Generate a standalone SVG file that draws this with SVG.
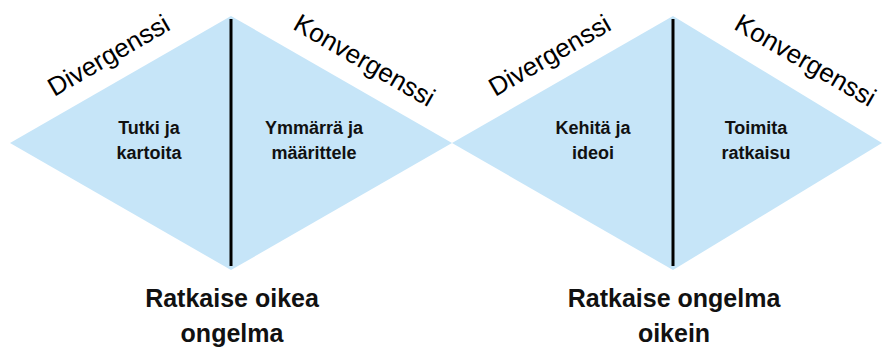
<svg xmlns="http://www.w3.org/2000/svg" width="882" height="347" viewBox="0 0 882 347">
  <style>
    .diamond { fill: #c6e5f8; stroke: none; }
    .divider { stroke: #000; stroke-width: 3; }
    .phase { font-family: "Liberation Sans", Arial, sans-serif; font-size: 26px; fill: #000; text-anchor: middle; }
    .step { font-family: "Liberation Sans", Arial, sans-serif; font-size: 18px; font-weight: bold; fill: #111; text-anchor: middle; }
    .goal { font-family: "Liberation Sans", Arial, sans-serif; font-size: 25px; font-weight: bold; fill: #111; text-anchor: middle; }
  </style>
  <rect width="882" height="347" fill="#fff"/>

  <!-- First diamond: problem space -->
  <g id="diamond-problem">
    <polygon class="diamond" points="10,143 231,16 452,143 231,270"/>
    <text class="phase" transform="translate(113,63) rotate(-30)">Divergenssi</text>
    <text class="phase" transform="translate(360,68) rotate(30)">Konvergenssi</text>
    <text class="step" x="149" y="134">Tutki ja</text>
    <text class="step" x="149" y="159">kartoita</text>
    <text class="step" x="314" y="134">Ymmärrä ja</text>
    <text class="step" x="314" y="159">määrittele</text>
    <text class="goal" x="232" y="307">Ratkaise oikea</text>
    <text class="goal" x="232" y="342">ongelma</text>
  </g>

  <!-- Second diamond: solution space -->
  <g id="diamond-solution">
    <polygon class="diamond" points="452,143 673,16 882,143 673,270"/>
    <text class="phase" transform="translate(554,63) rotate(-30)">Divergenssi</text>
    <text class="phase" transform="translate(801,68) rotate(30)">Konvergenssi</text>
    <text class="step" x="593" y="134">Kehitä ja</text>
    <text class="step" x="593" y="159">ideoi</text>
    <text class="step" x="756" y="134">Toimita</text>
    <text class="step" x="756" y="159">ratkaisu</text>
    <text class="goal" x="674" y="307">Ratkaise ongelma</text>
    <text class="goal" x="674" y="342">oikein</text>
  </g>

  <!-- Dividers between diverging and converging halves -->
  <g id="dividers">
    <line class="divider" x1="231" y1="19" x2="231" y2="266"/>
    <line class="divider" x1="673" y1="19" x2="673" y2="266"/>
  </g>
</svg>
